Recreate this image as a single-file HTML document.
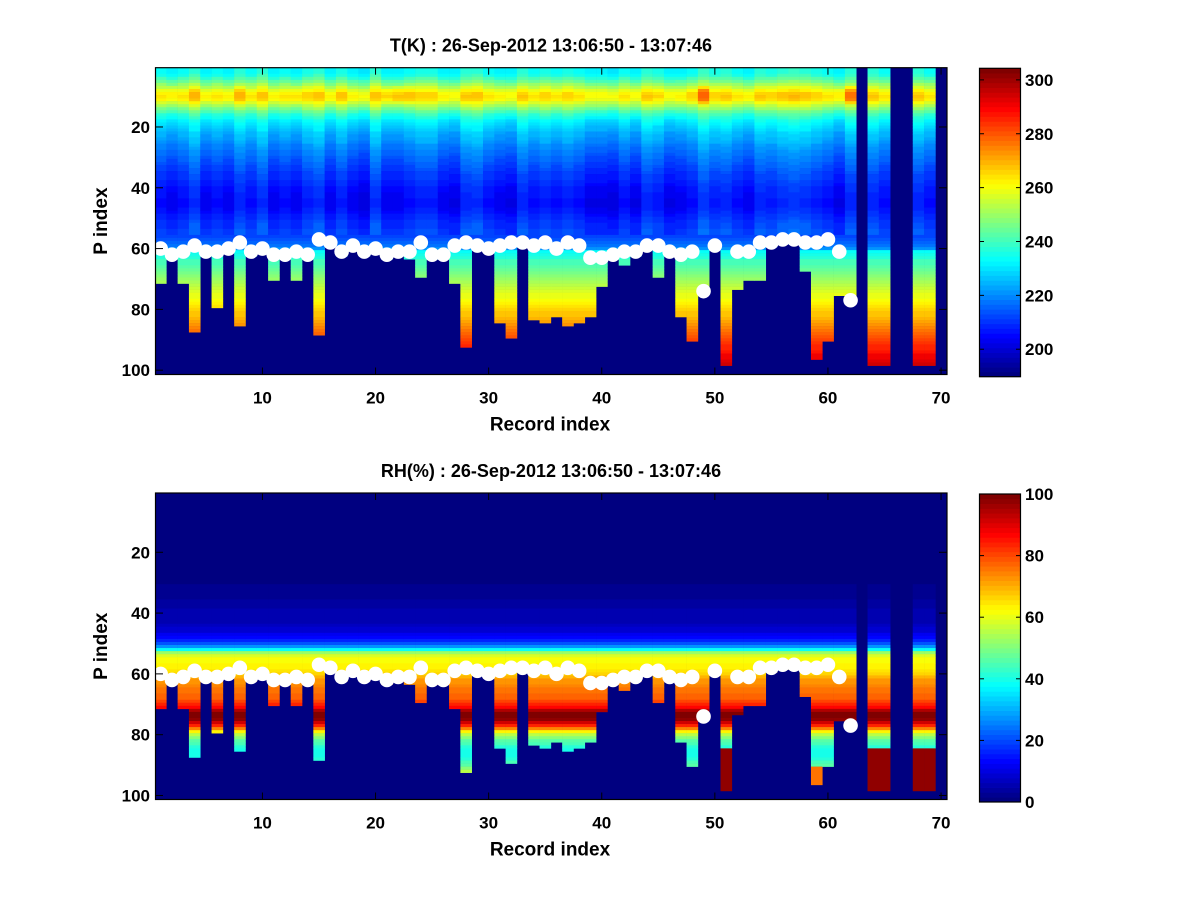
<!DOCTYPE html>
<html><head><meta charset="utf-8"><style>
html,body{margin:0;padding:0;background:#fff}
svg{display:block}
text{font-family:"Liberation Sans",Arial,sans-serif;font-weight:bold;fill:#000}
</style></head><body>
<svg id="fig" width="1200" height="900" viewBox="0 0 1200 900" xmlns="http://www.w3.org/2000/svg"></svg>
<script>
// ---- data ----
const records = Array.from({length:70},(_,i)=>i+1);
const xTicks = [10,20,30,40,50,60,70];
const yTicks = [20,40,60,80,100];
const tTicks = [200,220,240,260,280,300];
const rhTicks = [0,20,40,60,80,100];
// last P index with data per record (0 = no data)
const botP = [71,62,71,87,62,79,61,85,62,61,70,63,70,63,88,59,62,60,62,61,63,62,63,69,63,63,71,92,60,61,84,89,59,83,84,82,85,84,82,72,63,65,62,59,69,61,82,90,73,60,98,73,70,70,59,58,58,67,96,90,75,75,0,98,98,0,0,98,98,0];
// white marker P index per record (0 = none)
const dotP = [60,62,61,59,61,61,60,58,61,60,62,62,61,62,57,58,61,59,61,60,62,61,61,58,62,62,59,58,59,60,59,58,58,59,58,60,58,59,63,63,62,61,61,59,59,61,62,61,74,59,0,61,61,58,58,57,57,58,58,57,61,77,0,0,0,0,0,0,0,0];
// temperature profile (K) by P index 1..100
const tProfile = [234,234,236,240,244,249,254,259,263,264,262,257,252,247,242,238,235,232,230,228,227,225,224,223,222,220,219,218,217,216,215,214,213,212,211,210,210,209,208,207,207,206,206,205,205,205,206,207,208,209,210,211,211,212,212,213,214,216,218,222,234,236,238,240,241,243,245,247,248,250,252,253,255,256,258,259,261,262,264,265,267,268,270,272,273,275,277,278,280,282,283,285,286,288,290,291,292,294,295,296];
// per-record mid-level temperature shift (K)
const tShift = [0,-2,0,4,-2,0,-2,3,0,4,-2,0,-2,2,4,-2,2,-2,-4,4,-2,-2,0,2,2,-2,-3,3,4,0,-2,-3,3,0,2,0,2,0,-3,-3,-4,0,-3,3,1,-3,-2,0,5,2,3,0,-2,3,2,4,5,4,2,0,-3,3,0,3,0,0,0,3,0,0];
// per-record warm-band boost (K)
const tBand = [0,1,0,2,0,0,0,3,0,0,0,0,2,0,0,0,2,0,0,0,3,5,4,0,0,0,0,0,0,0,0,0,0,0,0,0,0,0,0,0,0,0,0,0,0,0,0,2,10,0,0,0,0,0,0,0,0,0,0,0,2,10,0,0,0,0,0,0,0,0];
// RH profile (%) by P index 1..100
const rhProfile = [1,1,1,1,1,1,1,1,1,1,1,1,1,1,1,1,1,1,1,1,1,1,1,1,1,1,1,1,1,1,2,2,2,2,2,4,4,4,5,5,5,6,6,7,8,9,11,13,16,21,28,38,52,58,61,62,63,64,65,66,70,72,73,74,75,76,77,78,80,83,87,95,99,99,97,92,84,74,64,56,50,46,44,42,40,40,40,42,44,46,50,56,62,70,78,84,88,90,90,90];
// records with moist lower layer below P85 (RH %), 0 = none
const rhDeep = [0,0,0,0,0,0,0,0,0,0,0,0,0,0,0,0,0,0,0,0,0,0,0,0,0,0,0,0,0,0,0,0,0,0,0,0,0,0,0,0,0,0,0,0,0,0,0,0,0,0,98,0,0,0,0,0,0,0,0,0,0,0,0,98,98,0,0,98,98,0];

const NS="http://www.w3.org/2000/svg";
const svg=document.getElementById('fig');
function mk(tag,attrs,parent){const e=document.createElementNS(NS,tag);for(const k in attrs)e.setAttribute(k,attrs[k]);(parent||svg).appendChild(e);return e;}
function jet(t){t=Math.max(0,Math.min(1,t));let i=Math.min(63,Math.floor(t*64));const q=i/63;
  const f=v=>Math.round(255*Math.max(0,Math.min(1,v)));
  return `rgb(${f(1.5-Math.abs(4*q-3))},${f(1.5-Math.abs(4*q-2))},${f(1.5-Math.abs(4*q-1))})`;}
const NAN_COL=jet(0);

function tVal(c,p){const b=botP[c];if(!b||p>b)return null;let v=tProfile[p-1];if(p<=55)v+=tShift[c];if(p>=7&&p<=12)v+=tBand[c]*(p>=8&&p<=11?1:0.5);return v;}
function rhVal(c,p){const b=botP[c];if(!b||p>b)return null;if(rhDeep[c]&&p>=85)return rhDeep[c];if(c===58&&p>=91)return 75;return rhProfile[p-1];}

function panel(o){
  const X=v=>155+(v-0.5)*11.31;
  const Y=v=>o.y0+(v-0.5)*3.04;
  const g=mk('g',{});
  
  
  const bg=mk('rect',{x:155,y:o.y0,width:792,height:o.y1-o.y0,fill:NAN_COL},g);
  
  
  const cells=mk('g',{},g);
  
  
  records.forEach((r,c)=>{
    let p=1;
    while(p<=100){
      const v=o.val(c,p);const col=v===null?NAN_COL:jet((v-o.lo)/(o.hi-o.lo));
      let q=p;while(q<100){const v2=o.val(c,q+1);const c2=v2===null?NAN_COL:jet((v2-o.lo)/(o.hi-o.lo));if(c2!==col)break;q++;}
      if(col!==NAN_COL){
        const x0=X(r-0.5),x1=X(r+0.5),ya=Y(p-0.5),yb=Math.min(o.y1,Y(q+0.5));
        const rc=mk('rect',{x:x0.toFixed(2),y:ya.toFixed(2),width:(x1-x0+0.3).toFixed(2),height:(yb-ya+0.3).toFixed(2),fill:col},cells);
        
        
      }
      p=q+1;
    }
  });
  records.forEach((r,c)=>{if(dotP[c]){
    const d=mk('circle',{cx:X(r).toFixed(2),cy:Y(dotP[c]).toFixed(2),r:7.3,fill:'#fff'},g);
    
    
  }});
  xTicks.forEach(t=>{const x=X(t);
    mk('line',{x1:x,x2:x,y1:o.y1,y2:o.y1-7,stroke:'#000','stroke-width':1},g);
    mk('line',{x1:x,x2:x,y1:o.y0,y2:o.y0+7,stroke:'#000','stroke-width':1},g);
    const tx=mk('text',{x:x,y:o.y1+29,'font-size':17,'text-anchor':'middle'},g);tx.textContent=t;
    
    
  });
  yTicks.forEach(t=>{const y=Y(t);
    mk('line',{x1:155,x2:163,y1:y,y2:y,stroke:'#000','stroke-width':1},g);
    mk('line',{x1:947,x2:939,y1:y,y2:y,stroke:'#000','stroke-width':1},g);
    const tx=mk('text',{x:150,y:y+6,'font-size':17,'text-anchor':'end'},g);tx.textContent=t;
    
    
  });
  const box=mk('rect',{x:155.5,y:o.y0,width:791.5,height:o.y1-o.y0,fill:'none',stroke:'#000','stroke-width':1.2},g);
  
  
  const ti=mk('text',{x:551,y:o.y0-16,'font-size':18,'text-anchor':'middle'},g);ti.textContent=o.title;
  
  
  const xl=mk('text',{x:550,y:o.y1+56,'font-size':19,'text-anchor':'middle'},g);xl.textContent='Record index';
  
  
  const yc=(o.y0+o.y1)/2;
  const yl=mk('text',{x:0,y:0,'font-size':19,'text-anchor':'middle',transform:`translate(107,${yc}) rotate(-90)`},g);yl.textContent='P index';
  
  
  const cb=mk('g',{},g);
  
  
  const cy0=o.cb0,cy1=o.cb1,H=cy1-cy0;
  for(let i=0;i<64;i++){
    const ya=cy1-(i+1)*H/64;
    mk('rect',{x:979.5,y:ya.toFixed(2),width:41,height:(H/64+0.4).toFixed(2),fill:jet(i/63+0.0001)},cb);
  }
  const cbx=mk('rect',{x:979.5,y:cy0,width:41,height:H,fill:'none',stroke:'#000','stroke-width':1.2},cb);
  
  
  o.ticks.forEach(t=>{const y=cy1-(t-o.cblo)/(o.cbhi-o.cblo)*H;
    mk('line',{x1:979.5,x2:984,y1:y,y2:y,stroke:'#000'},cb);
    mk('line',{x1:1020.5,x2:1016,y1:y,y2:y,stroke:'#000'},cb);
    const tx=mk('text',{x:1025,y:y+6,'font-size':17},cb);tx.textContent=t;
    
    
  });
}
panel({name:'temperature',y0:67.7,y1:374.5,val:tVal,lo:189.8,hi:304.3,cb0:68.3,cb1:376.7,cblo:189.8,cbhi:304.3,ticks:tTicks,title:'T(K) : 26-Sep-2012 13:06:50 - 13:07:46'});
panel({name:'humidity',y0:493,y1:799.5,val:rhVal,lo:0,hi:100,cb0:494,cb1:802,cblo:0,cbhi:100,ticks:rhTicks,title:'RH(%) : 26-Sep-2012 13:06:50 - 13:07:46'});
</script>
</body></html>
